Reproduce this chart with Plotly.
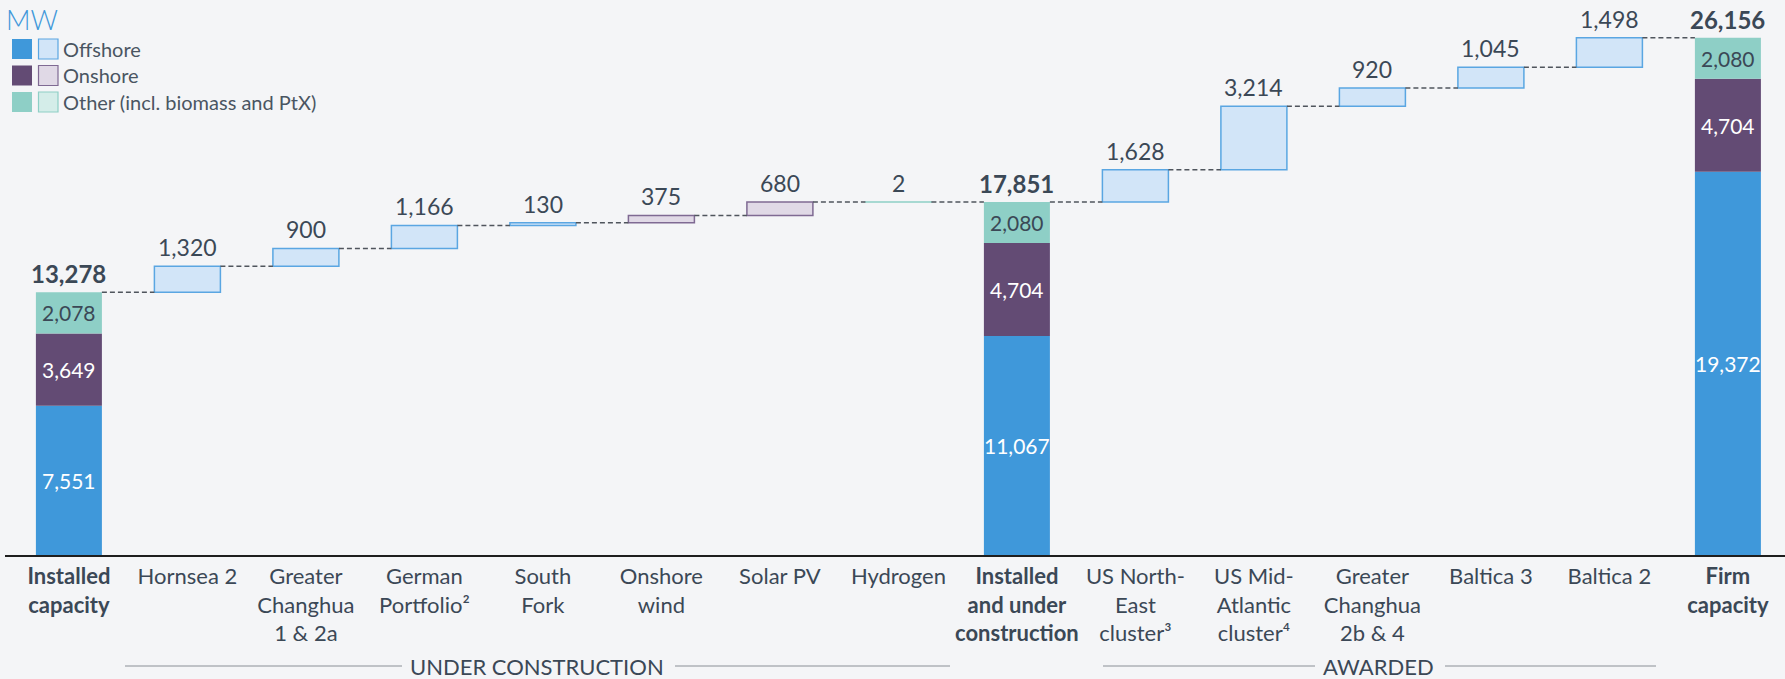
import plotly.graph_objects as go

# ---------------- data ----------------
categories = ["Installed capacity", "Hornsea 2", "Greater Changhua 1 & 2a", "German Portfolio",
              "South Fork", "Onshore wind", "Solar PV", "Hydrogen", "Installed and under construction",
              "US North-East cluster", "US Mid-Atlantic cluster", "Greater Changhua 2b & 4",
              "Baltica 3", "Baltica 2", "Firm capacity"]
tick_labels = ["<b>Installed</b><br><b>capacity</b>", "Hornsea 2", "Greater<br>Changhua<br>1 & 2a",
               "German<br>Portfolio²", "South<br>Fork", "Onshore<br>wind", "Solar PV", "Hydrogen",
               "<b>Installed</b><br><b>and under</b><br><b>construction</b>", "US North-<br>East<br>cluster³",
               "US Mid-<br>Atlantic<br>cluster⁴", "Greater<br>Changhua<br>2b & 4", "Baltica 3", "Baltica 2",
               "<b>Firm</b><br><b>capacity</b>"]

total_idx = [0, 8, 14]
total_offshore = [7551, 11067, 19372]
total_onshore = [3649, 4704, 4704]
total_other = [2078, 2080, 2080]
total_sum = [13278, 17851, 26156]

step_idx = [1, 2, 3, 4, 5, 6, 7, 9, 10, 11, 12, 13]
step_values = [1320, 900, 1166, 130, 375, 680, 2, 1628, 3214, 920, 1045, 1498]
step_type = ["Offshore", "Offshore", "Offshore", "Offshore", "Onshore", "Onshore", "Other",
             "Offshore", "Offshore", "Offshore", "Offshore", "Offshore"]

legend_names = ["Offshore", "Onshore", "Other (incl. biomass and PtX)"]
group_labels = ["UNDER CONSTRUCTION", "AWARDED"]

# ---------------- styles ----------------
BG = "#f4f5f7"
TXT = "#3b4856"
dark = {"Offshore": "#3f98da", "Onshore": "#634b74", "Other": "#8ecfc6"}
light = {"Offshore": "#d2e5f8", "Onshore": "#e0d9e6", "Other": "#d4ede9"}
border = {"Offshore": "#5aa6e2", "Onshore": "#7f6a93", "Other": "#8ecfc6"}
FONT = "Lato"
W = 0.557

W_PX, H_PX = 1785, 679
PLOT_BOTTOM = 555  # pixel of y=0
X0_PX, DX_PX = 68.9, 118.5
Y_SCALE = 0.01978  # px per MW
y_top = PLOT_BOTTOM / Y_SCALE
x_min = -X0_PX / DX_PX
x_max = (W_PX - X0_PX) / DX_PX


def px_x(p):
    return p / W_PX


def px_y(p):
    return (PLOT_BOTTOM - p) / PLOT_BOTTOM


fig = go.Figure()

# totals (stacked)
bases_on = [a for a in total_offshore]
bases_oth = [a + b for a, b in zip(total_offshore, total_onshore)]
fig.add_trace(go.Bar(x=total_idx, y=total_offshore, base=[0] * 3, width=W,
                     marker=dict(color=dark["Offshore"], line=dict(width=0)), hoverinfo="skip"))
fig.add_trace(go.Bar(x=total_idx, y=total_onshore, base=bases_on, width=W,
                     marker=dict(color=dark["Onshore"], line=dict(width=0)), hoverinfo="skip"))
fig.add_trace(go.Bar(x=total_idx, y=total_other, base=bases_oth, width=W,
                     marker=dict(color=dark["Other"], line=dict(width=0)), hoverinfo="skip"))

# steps
tops = {}
cur = None
order = sorted(total_idx + step_idx)
step_base = {}
for i in order:
    if i in total_idx:
        k = total_idx.index(i)
        cur = total_sum[k]
        tops[i] = cur
    else:
        k = step_idx.index(i)
        step_base[i] = cur
        cur = cur + step_values[k]
        tops[i] = cur

for t in ["Offshore", "Onshore", "Other"]:
    xs = [step_idx[k] for k in range(len(step_idx)) if step_type[k] == t]
    ys = [step_values[k] for k in range(len(step_idx)) if step_type[k] == t]
    bs = [step_base[x] for x in xs]
    fig.add_trace(go.Bar(x=xs, y=ys, base=bs, width=W,
                         marker=dict(color=light[t], line=dict(color=border[t], width=1.5)),
                         hoverinfo="skip"))

# connectors
cx, cy = [], []
for a, b in zip(order[:-1], order[1:]):
    cx += [a + W / 2, b - W / 2, None]
    cy += [tops[a], tops[a], None]
fig.add_trace(go.Scatter(x=cx, y=cy, mode="lines",
                         line=dict(color="#4f555d", width=1.5, dash="5px,3px"), hoverinfo="skip"))

ann = []
# total labels
for i, s in zip(total_idx, total_sum):
    ann.append(dict(x=i, y=s, xref="x", yref="y", text=f"<b>{s:,}</b>", showarrow=False,
                    yanchor="bottom", yshift=2, font=dict(size=24, color=TXT, family=FONT)))
# step labels
for i, v in zip(step_idx, step_values):
    ann.append(dict(x=i, y=tops[i], xref="x", yref="y", text=f"{v:,}", showarrow=False,
                    yanchor="bottom", yshift=3, font=dict(size=23, color=TXT, family=FONT)))
# inner labels
for k, i in enumerate(total_idx):
    segs = [(0, total_offshore[k], "white"),
            (total_offshore[k], total_onshore[k], "white"),
            (bases_oth[k], total_other[k], TXT)]
    for b, v, c in segs:
        ann.append(dict(x=i, y=b + v / 2, xref="x", yref="y", text=f"{v:,}", showarrow=False,
                        yanchor="middle", font=dict(size=21, color=c, family=FONT)))

# MW title
ann.append(dict(x=px_x(4), y=px_y(38), xref="paper", yref="paper", text="MW", showarrow=False,
                xanchor="left", yanchor="bottom",
                font=dict(size=27, color="#3f98da", family=FONT, weight=300)))

shapes = []
# legend
rows_top = [39, 65.5, 92]
for r, (name, t) in enumerate(zip(legend_names, ["Offshore", "Onshore", "Other"])):
    y0, y1 = px_y(rows_top[r] + 20), px_y(rows_top[r])
    shapes.append(dict(type="rect", xref="paper", yref="paper", x0=px_x(12), x1=px_x(32), y0=y0, y1=y1,
                       fillcolor=dark[t], line=dict(width=0)))
    shapes.append(dict(type="rect", xref="paper", yref="paper", x0=px_x(38.5), x1=px_x(58), y0=y0, y1=y1,
                       fillcolor=light[t], line=dict(color=border[t], width=1.2)))
    ann.append(dict(x=px_x(61), y=(y0 + y1) / 2, xref="paper", yref="paper", text=name, showarrow=False,
                    xanchor="left", yanchor="middle", font=dict(size=20, color="#4a5562", family=FONT)))

# baseline axis
shapes.append(dict(type="line", xref="paper", yref="paper", x0=px_x(5), x1=1, y0=px_y(556), y1=px_y(556),
                   line=dict(color="#1e1e1e", width=2.2)))

# group labels with lines
groups = [(537, 125, 402, 675, 950), (1378, 1103, 1315, 1445, 1656)]
for lbl, (c, l0, l1, r0, r1) in zip(group_labels, groups):
    yy = px_y(666)
    ann.append(dict(x=px_x(c), y=yy, xref="paper", yref="paper", text=lbl, showarrow=False,
                    xanchor="center", yanchor="middle", font=dict(size=22, color=TXT, family=FONT)))
    for a, b in [(l0, l1), (r0, r1)]:
        shapes.append(dict(type="line", xref="paper", yref="paper", x0=px_x(a), x1=px_x(b), y0=yy, y1=yy,
                           line=dict(color="#8a8f96", width=1)))

fig.update_layout(
    width=W_PX, height=H_PX,
    margin=dict(l=0, r=0, t=0, b=H_PX - PLOT_BOTTOM),
    paper_bgcolor=BG, plot_bgcolor=BG,
    showlegend=False, barmode="overlay",
    annotations=ann, shapes=shapes,
    font=dict(family=FONT, color=TXT),
    xaxis=dict(range=[x_min, x_max], tickmode="array", tickvals=list(range(len(categories))),
               ticktext=tick_labels, showgrid=False, zeroline=False, showline=False, ticks="",
               tickfont=dict(size=22, color=TXT, family=FONT), ticklabelstandoff=6, fixedrange=True),
    yaxis=dict(range=[0, y_top], visible=False, showgrid=False, zeroline=False, fixedrange=True),
)

fig.write_html("out.html", config={"displayModeBar": False},
               post_script="document.body.style.margin='0';document.body.style.overflow='hidden';"
                           "document.body.style.background='" + BG + "';")
